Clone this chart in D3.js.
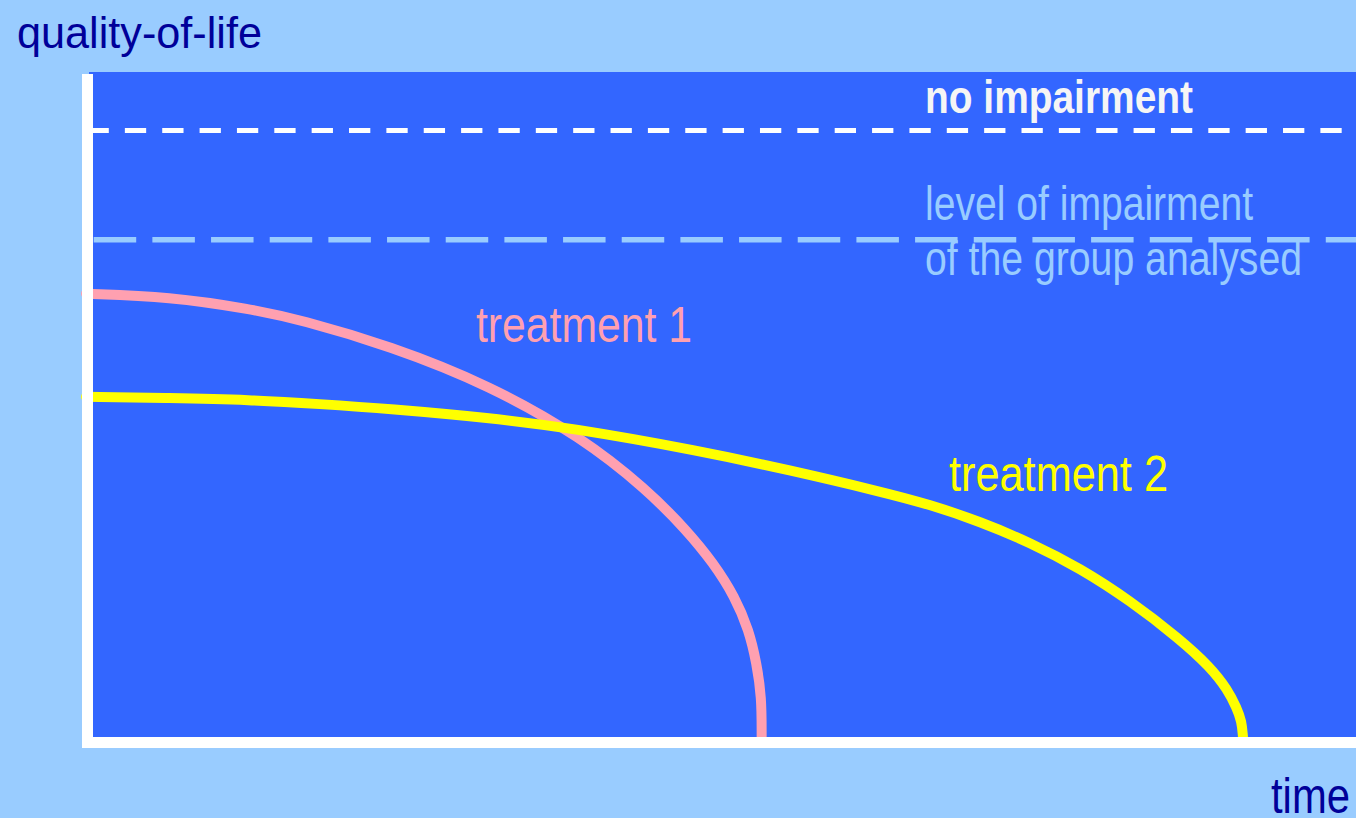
<!DOCTYPE html>
<html lang="en">
<head>
    <meta charset="UTF-8">
    <title>quality-of-life over time</title>
    <script src="https://cdn.jsdelivr.net/npm/d3@7/dist/d3.min.js"></script>
    <style>
        html, body {margin: 0; padding: 0; background: #99ccff; overflow: hidden;}
        text {font-family: "Liberation Sans", Arial, sans-serif;}
    </style>
</head>
<body>
<svg id="svg"></svg>
<script>
    // values (time 0..100, quality-of-life 0..100)
    var time1 = [0, 6.6, 12.9, 16.9, 23.9, 31.8, 39.1, 44.1, 47.3, 49.4, 51.1, 52.2, 52.8, 53.2, 53.2];
    var qol1 = [73.1, 72.6, 70.6, 68.8, 64.5, 58.0, 49.3, 40.9, 34.1, 28.7, 23.1, 17.6, 12.2, 6.6, 0];

    var time2 = [0, 6.6, 12.9, 18.4, 23.9, 31.8, 38.1, 48.3, 55.4, 62.5, 66.5, 70.4, 74.3, 78.3, 82.2, 86.1, 88.5, 89.9, 90.6, 91.0, 91.1];
    var qol2 = [56.1, 55.9, 55.6, 54.9, 54.1, 52.6, 51.0, 47.2, 44.0, 40.5, 38.3, 35.5, 32.1, 27.8, 22.5, 16.2, 11.6, 7.8, 4.8, 2.6, 0];

    var levelNames = ["no impairment", "group analysed"];
    var levelValues = [100, 82];

    var width = 1356, height = 818;
    var axisX = 87.5, axisY = 742.5;

    var svg = d3.select("#svg")
        .attr("width", width)
        .attr("height", height);

    var x = d3.scaleLinear().domain([0, 100]).range([86, 1356]);
    var y = d3.scaleLinear().domain([0, 100]).range([737, 130.5]);

    // page + plot background
    svg.append("rect").attr("width", width).attr("height", height).attr("fill", "#99ccff");
    svg.append("rect")
        .attr("x", 89).attr("y", 72)
        .attr("width", width - 89).attr("height", y(0) - 72)
        .attr("fill", "#3366ff");

    // dashed reference levels
    var dashStyle = [
        {color: "#ffffff", w: 5, dash: "21.3 16.06", off: 0},
        {color: "#99ccff", w: 5.5, dash: "42.5 16.17", off: -6.2}
    ];
    svg.append("g")
        .selectAll("line")
        .data(levelValues)
        .enter()
        .append("line")
        .attr("x1", axisX)
        .attr("x2", width)
        .attr("y1", function (d) { return y(d); })
        .attr("y2", function (d) { return y(d); })
        .attr("stroke", function (d, i) { return dashStyle[i].color; })
        .attr("stroke-width", function (d, i) { return dashStyle[i].w; })
        .attr("stroke-dasharray", function (d, i) { return dashStyle[i].dash; })
        .attr("stroke-dashoffset", function (d, i) { return dashStyle[i].off; });

    // curves (smoothed through the read points)
    var line = d3.line()
        .x(function (d) { return x(d[0]); })
        .y(function (d) { return y(d[1]); })
        .curve(d3.curveBasis);

    var series = [
        {pts: d3.zip(time1, qol1), color: "#ffa0b0"},
        {pts: d3.zip(time2, qol2), color: "#ffff00"}
    ];
    svg.append("g")
        .selectAll("path")
        .data(series)
        .enter()
        .append("path")
        .attr("d", function (d) { return line(d.pts); })
        .attr("fill", "none")
        .attr("stroke", function (d) { return d.color; })
        .attr("stroke-width", 10)
        .attr("stroke-linecap", "round");

    // white axes on top of the curves
    svg.append("line")
        .attr("x1", axisX).attr("x2", axisX)
        .attr("y1", 74).attr("y2", 748)
        .attr("stroke", "#ffffff").attr("stroke-width", 11);
    svg.append("line")
        .attr("x1", 82).attr("x2", width)
        .attr("y1", axisY).attr("y2", axisY)
        .attr("stroke", "#ffffff").attr("stroke-width", 11);

    // labels
    var labels = [
        {t: "quality-of-life", x: 17, y: 48, size: 44, len: 245, fill: "#000099", bold: false},
        {t: "time", x: 1271, y: 813, size: 50, len: 79, fill: "#000099", bold: false},
        {t: "no impairment", x: 925, y: 113, size: 46, len: 268, fill: "#f5f5f5", bold: true},
        {t: "level of impairment", x: 925, y: 220, size: 48, len: 328, fill: "#99ccff", bold: false},
        {t: "of the group analysed", x: 925, y: 275, size: 48, len: 377, fill: "#99ccff", bold: false},
        {t: "treatment 1", x: 476, y: 342, size: 50, len: 216, fill: "#ffa0b0", bold: false},
        {t: "treatment 2", x: 949, y: 491, size: 50, len: 219, fill: "#ffff00", bold: false}
    ];
    svg.append("g")
        .selectAll("text")
        .data(labels)
        .enter()
        .append("text")
        .attr("x", function (d) { return d.x; })
        .attr("y", function (d) { return d.y; })
        .attr("textLength", function (d) { return d.len; })
        .attr("lengthAdjust", "spacingAndGlyphs")
        .style("font-size", function (d) { return d.size + "px"; })
        .style("font-weight", function (d) { return d.bold ? "bold" : "normal"; })
        .style("fill", function (d) { return d.fill; })
        .text(function (d) { return d.t; });
</script>
</body>
</html>
